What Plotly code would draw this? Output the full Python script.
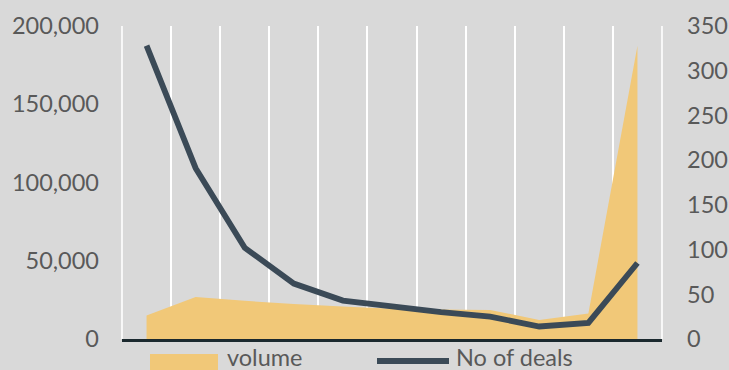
import plotly.graph_objects as go

# Eleven buckets along the category axis (no labels are shown on it)
categories = list(range(11))
volume = [15000, 26900, 24400, 22300, 20700, 19300, 18800, 18600, 12200, 16300, 187400]
deals = [328, 191, 102, 62, 43, 36, 30, 25, 14, 18, 85]

left_ticks = [0, 50000, 100000, 150000, 200000]
right_ticks = [0, 50, 100, 150, 200, 250, 300, 350]

W, H = 729, 370
ML, MR, MT, MB = 122, 67, 26, 31
PW, PH = W - ML - MR, H - MT - MB

BG = "#d9d9d9"
AREA = "#f1c878"
LINE = "#3b4a57"
TEXT = "#595959"
FONT = "Lato"


def px_x(px):
    return (px - ML) / PW


def px_y(py):
    return (H - MB - py) / PH


fig = go.Figure()
fig.add_trace(go.Scatter(
    x=categories, y=volume, name="volume", mode="lines",
    line=dict(width=0, color=AREA), fill="tozeroy", fillcolor=AREA,
    showlegend=False, yaxis="y",
))
fig.add_trace(go.Scatter(
    x=categories, y=deals, name="No of deals", mode="lines",
    line=dict(width=5.8, color=LINE), showlegend=False, yaxis="y2",
))

shapes = [
    # outer category boundaries (the axis grid skips lines on the range ends)
    dict(type="line", xref="paper", yref="paper", x0=0, x1=0, y0=0, y1=1,
         line=dict(color="white", width=1.6), layer="below"),
    dict(type="line", xref="paper", yref="paper", x0=1, x1=1, y0=0, y1=1,
         line=dict(color="white", width=1.6), layer="below"),
    # legend drawn by hand: wide swatches like a spreadsheet legend
    dict(type="rect", xref="paper", yref="paper",
         x0=px_x(150), x1=px_x(218), y0=px_y(372), y1=px_y(354),
         fillcolor=AREA, line=dict(width=0), layer="above"),
    dict(type="line", xref="paper", yref="paper",
         x0=px_x(377), x1=px_x(449), y0=px_y(361), y1=px_y(361),
         line=dict(color=LINE, width=5.8), layer="above"),
]
annotations = [
    dict(text="volume", xref="paper", yref="paper", x=px_x(225), y=px_y(357),
         xanchor="left", yanchor="middle", showarrow=False,
         font=dict(family=FONT, size=23.5, color=TEXT)),
    dict(text="No of deals", xref="paper", yref="paper", x=px_x(454), y=px_y(357),
         xanchor="left", yanchor="middle", showarrow=False,
         font=dict(family=FONT, size=23.5, color=TEXT)),
]

fig.update_layout(
    width=W, height=H,
    margin=dict(l=ML, r=MR, t=MT, b=MB, pad=0),
    paper_bgcolor=BG, plot_bgcolor=BG,
    template="none",
    font=dict(family=FONT, size=23.5, color=TEXT),
    xaxis=dict(
        range=[-0.5, 10.5], tickmode="array",
        tickvals=[i - 0.5 for i in range(12)], showticklabels=False,
        showgrid=True, gridcolor="white", gridwidth=1.6,
        showline=True, linecolor="#1b292e", linewidth=3.3,
        zeroline=False, ticks="", automargin=False,
    ),
    yaxis=dict(
        range=[0, 200000], tickmode="array", tickvals=left_ticks,
        tickformat=",", showgrid=False, zeroline=False, showline=False,
        ticks="", ticklabelstandoff=22, automargin=False,
    ),
    yaxis2=dict(
        range=[0, 350], tickmode="array", tickvals=right_ticks,
        overlaying="y", side="right", showgrid=False, zeroline=False,
        showline=False, ticks="", ticklabelstandoff=24, automargin=False,
    ),
    shapes=shapes,
    annotations=annotations,
)

fig.write_html("out.html")
